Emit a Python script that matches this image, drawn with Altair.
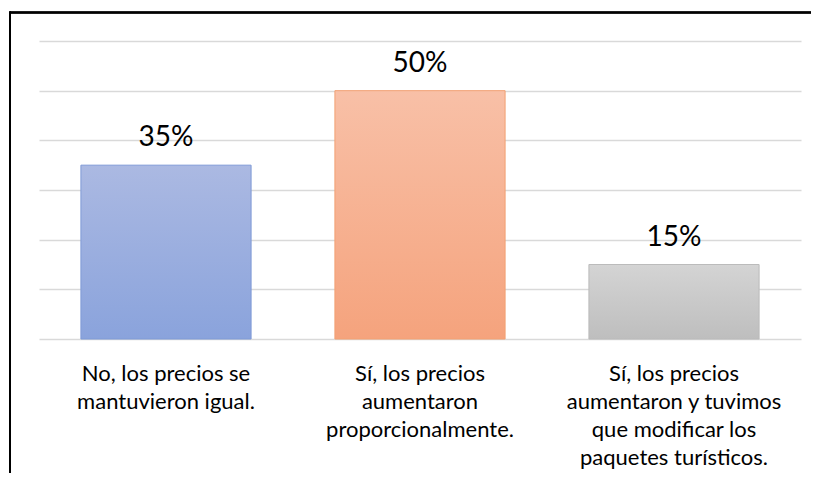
import altair as alt
import pandas as pd

categories = [
    "No, los precios se\nmantuvieron igual.",
    "Sí, los precios\naumentaron\nproporcionalmente.",
    "Sí, los precios\naumentaron y tuvimos\nque modificar los\npaquetes turísticos.",
]
values = [0.35, 0.50, 0.15]
labels = ["35%", "50%", "15%"]
fill_top = ["#abb9e2", "#f8c0a7", "#d4d4d4"]
fill_bottom = ["#8aa3dc", "#f5a37d", "#bebebe"]
strokes = ["#7f9ad6", "#f2a073", "#bbbbbb"]

df = pd.DataFrame({"cat": categories, "val": values, "label": labels})

x_enc = alt.X(
    "cat:N",
    sort=categories,
    title=None,
    scale=alt.Scale(paddingInner=0.33, paddingOuter=0.165),
    axis=alt.Axis(
        labelExpr="split(datum.label, '\\n')",
        labelAngle=0,
        domain=False,
        ticks=False,
        grid=False,
        labelFont="Lato",
        labelFontSize=22,
        labelLineHeight=28,
        labelColor="#000000",
        labelBaseline="top",
        labelPadding=24,
        labelLimit=400,
    ),
)
y_enc = alt.Y(
    "val:Q",
    title=None,
    scale=alt.Scale(domain=[0, 0.6], nice=False),
    axis=alt.Axis(
        values=[0, 0.1, 0.2, 0.3, 0.4, 0.5, 0.6],
        labels=False,
        ticks=False,
        domain=False,
        grid=True,
        gridColor="#d9d9d9",
        gridWidth=1.5,
    ),
)

layers = []
for i, c in enumerate(categories):
    layers.append(
        alt.Chart(df)
        .transform_filter(alt.datum.cat == c)
        .mark_bar(
            fill=alt.Gradient(
                gradient="linear",
                x1=0, y1=0, x2=0, y2=1,
                stops=[
                    alt.GradientStop(color=fill_top[i], offset=0),
                    alt.GradientStop(color=fill_bottom[i], offset=1),
                ],
            ),
            stroke=strokes[i],
            strokeWidth=1,
        )
        .encode(x=x_enc, y=y_enc)
    )

text = (
    alt.Chart(df)
    .mark_text(font="Lato", fontSize=28, color="#000000", baseline="alphabetic", dy=-19)
    .encode(x=x_enc, y=y_enc, text="label:N")
)

border_top = alt.Chart(df).mark_rule(color="#000000", strokeWidth=2).encode(
    x=alt.value(-29), x2=alt.value(900), y=alt.value(-28.5)
)
border_left = alt.Chart(df).mark_rule(color="#000000", strokeWidth=2).encode(
    x=alt.value(-29), y=alt.value(-29.5), y2=alt.value(600)
)

chart = (
    alt.layer(*layers, text, border_top, border_left)
    .properties(
        width=762,
        height=298,
        background="#ffffff",
        autosize=alt.AutoSizeParams(type="none"),
        padding={"left": 31, "top": 33, "right": 10, "bottom": 134},
    )
    .configure_view(stroke="transparent", strokeWidth=0)
)

chart.save("out.html", embed_options={"renderer": "svg", "actions": False})
